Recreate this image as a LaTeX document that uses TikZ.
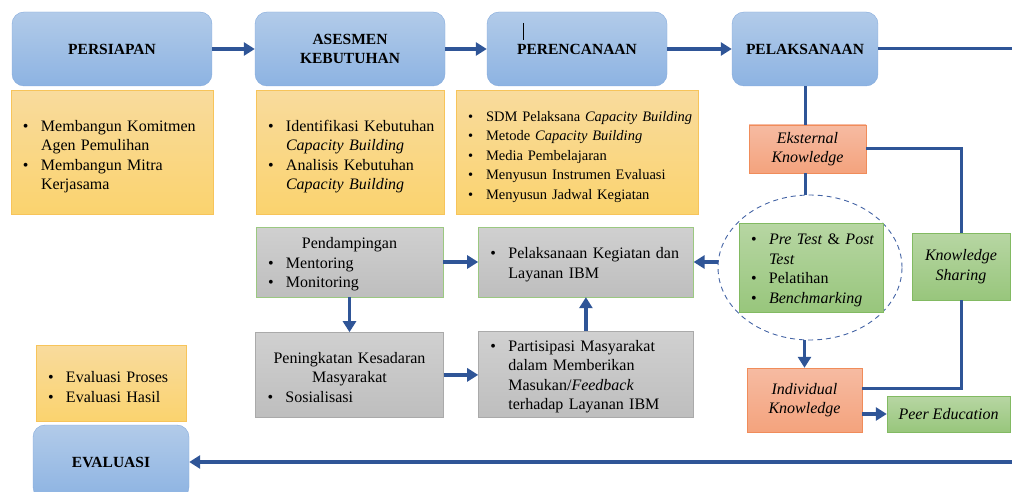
\documentclass[tikz,border=0pt]{standalone}
\usepackage{fontspec}
\setmainfont{Liberation Serif}
\usetikzlibrary{arrows.meta,positioning,shapes.geometric}
\usepackage{xcolor}

\definecolor{stagetop}{RGB}{178,203,233}
\definecolor{stagebot}{RGB}{141,179,226}
\definecolor{stageedge}{RGB}{132,170,220}
\definecolor{listtop}{RGB}{249,219,157}
\definecolor{listbot}{RGB}{250,211,110}
\definecolor{listedge}{RGB}{247,196,90}
\definecolor{graytop}{RGB}{208,208,208}
\definecolor{graybot}{RGB}{190,190,190}
\definecolor{grayedge}{RGB}{170,170,170}
\definecolor{knowtop}{RGB}{246,187,162}
\definecolor{knowbot}{RGB}{244,163,125}
\definecolor{knowedge}{RGB}{240,140,90}
\definecolor{greentop}{RGB}{183,214,163}
\definecolor{greenbot}{RGB}{152,198,124}
\definecolor{greenedge}{RGB}{130,186,98}
\definecolor{flowblue}{RGB}{47,85,151}
\definecolor{ringblue}{RGB}{68,100,165}

% bullet line and its continuation line
\newcommand{\bitem}[1]{\mbox{\makebox[18pt][l]{\textbullet}#1}}
\newcommand{\bcont}[1]{\mbox{\hspace*{18pt}#1}}
% a tall first line puts the text a little lower in its box
\newcommand{\lowtop}[1]{\rule{0pt}{#1}}

\begin{document}
\begin{tikzpicture}[x=1pt, y=-1pt, node distance=4pt,
    every node/.style={font=\fontsize{16}{19.5}\selectfont}]
\tikzset{
    stagebox/.style={rectangle, rounded corners=12pt, draw=stageedge, top color=stagetop, bottom color=stagebot, align=center, inner sep=0pt, minimum height=74pt, font=\fontsize{15.5}{18.5}\selectfont\bfseries},
    listbox/.style={rectangle, draw=listedge, top color=listtop, bottom color=listbot, align=left, inner xsep=12pt, inner ysep=0pt},
    graybox/.style={rectangle, draw=grayedge, top color=graytop, bottom color=graybot, align=left, inner xsep=12pt, inner ysep=0pt},
    knowbox/.style={rectangle, draw=knowedge, top color=knowtop, bottom color=knowbot, align=center, inner sep=0pt, font=\fontsize{16}{19.5}\selectfont\itshape},
    greenbox/.style={rectangle, draw=greenedge, top color=greentop, bottom color=greenbot, inner sep=0pt},
    myarrow/.style={-{Triangle[length=11pt,width=13pt]}, line width=3.5pt, draw=flowblue},
    myline/.style={line width=3pt, draw=flowblue}
}
\useasboundingbox (0,0) rectangle (1012,492);

% main stages
\node[stagebox, minimum width=200pt] (persiapan) at (112,49) {PERSIAPAN};
\node[stagebox, minimum width=190pt] (asesmen) at (350,49) {ASESMEN\\KEBUTUHAN};
\node[stagebox, minimum width=180pt] (perencanaan) at (577,49) {PERENCANAAN};
\node[stagebox, minimum width=146pt] (pelaksanaan) at (805,49) {PELAKSANAAN};
\node[stagebox, minimum width=156pt] (evaluasi) at (111,462) {EVALUASI};
\draw[black, line width=0.7pt] ([shift={(-54,11)}]perencanaan.north) -- ++(0,17);

\node[listbox, below=of persiapan, text width=178pt, minimum height=124pt] (persiapanlist) {\lowtop{20pt}\bitem{Membangun Komitmen}\\ \bcont{Agen Pemulihan}\\ \bitem{Membangun Mitra}\\ \bcont{Kerjasama}};
\node[listbox, below=of asesmen, text width=164pt, minimum height=124pt] (asesmenlist) {\lowtop{20pt}\bitem{Identifikasi Kebutuhan}\\ \bcont{\textit{Capacity Building}}\\ \bitem{Analisis Kebutuhan}\\ \bcont{\textit{Capacity Building}}};
\node[listbox, below=of perencanaan, text width=218pt, minimum height=124pt, font=\fontsize{14.5}{19.5}\selectfont] (perencanaanlist) {\lowtop{19pt}\bitem{SDM Pelaksana \textit{Capacity Building}}\\ \bitem{Metode \textit{Capacity Building}}\\ \bitem{Media Pembelajaran}\\ \bitem{Menyusun Instrumen Evaluasi}\\ \bitem{Menyusun Jadwal Kegiatan}};
\node[listbox, above=3pt of evaluasi, text width=126pt, minimum height=76pt] (evallist) {\lowtop{18pt}\bitem{Evaluasi Proses}\\ \bitem{Evaluasi Hasil}};

% implementation activities
\node[graybox, draw=greenedge!80, text width=163pt, minimum height=70pt] (pendamp) at (349.5,262) {\lowtop{16pt}\makebox[163pt]{Pendampingan}\\ \bitem{Mentoring}\\ \bitem{Monitoring}};
\node[graybox, draw=greenedge!80, right=35pt of pendamp, text width=191pt, minimum height=70pt] (pelkeg) {\lowtop{16pt}\bitem{Pelaksanaan Kegiatan dan}\\ \bcont{Layanan IBM}};
\node[graybox, below=35pt of pendamp, text width=164pt, minimum height=85pt] (peningkatan) {\lowtop{16pt}\makebox[164pt]{Peningkatan Kesadaran}\\ \makebox[164pt]{Masyarakat}\\ \bitem{Sosialisasi}};
\node[graybox, below=34pt of pelkeg, text width=191pt, minimum height=86pt] (partisipasi) {\lowtop{16pt}\bitem{Partisipasi Masyarakat}\\ \bcont{dalam Memberikan}\\ \bcont{Masukan/\textit{Feedback}}\\ \bcont{terhadap Layanan IBM}};

% knowledge part
\node[knowbox, minimum width=117pt, minimum height=48pt] (eksternal) at (807.5,149) {Eksternal\\Knowledge};
\node[ellipse, draw=ringblue, dashed, dash pattern=on 5pt off 4pt, line width=0.9pt, minimum width=184pt, minimum height=145pt] (ring) at (810,267.5) {};
\node[greenbox, align=left, inner xsep=12pt, text width=120pt, minimum height=89pt] (learning) at (811,267.5) {\lowtop{16pt}\bitem{\textit{Pre Test} \& \textit{Post}}\\ \bcont{\textit{Test}}\\ \bitem{Pelatihan}\\ \bitem{\textit{Benchmarking}}};
\node[knowbox, minimum width=115pt, minimum height=64pt] (individual) at (804.5,400) {Individual\\Knowledge};
\node[greenbox, align=center, font=\fontsize{16}{19.5}\selectfont\itshape, minimum width=98pt, minimum height=67pt] (sharing) at (961,266.5) {Knowledge\\Sharing};
\node[greenbox, font=\fontsize{16}{19.5}\selectfont\itshape, minimum width=123pt, minimum height=36pt] (peer) at (948.5,414) {Peer Education};

\coordinate (topend) at (1012,49);
\coordinate (botend) at (1012,462);

\draw[myarrow] (persiapan) -- (asesmen);
\draw[myarrow] (asesmen) -- (perencanaan);
\draw[myarrow] (perencanaan) -- (pelaksanaan);
\draw[myline] (pelaksanaan.east) -- (topend);
\draw[myarrow] (botend) -- (evaluasi.east);
% the flow leaves the picture on the right and comes back at the bottom

\draw[myline] (pelaksanaan.south) -- (pelaksanaan.south |- eksternal.north);
\draw[myline] (eksternal.south -| pelaksanaan.south) -- (ring.north -| pelaksanaan.south);
\draw[myarrow] (ring.south -| individual.north) -- (individual.north);
\draw[myarrow] (ring.west |- pelkeg.east) -- (pelkeg.east);
\draw[myline] (eksternal.east) -| (sharing.north);
\draw[myline] (sharing.south) |- ([yshift=12pt]individual.east);
\draw[myarrow] (individual.east |- peer.west) -- (peer.west);

\draw[myarrow] (pendamp) -- (pelkeg);
\draw[myarrow] (pendamp.south) -- (pendamp.south |- peningkatan.north);
\draw[myarrow] (peningkatan.east) -- (peningkatan.east -| partisipasi.west);
\draw[myarrow] (partisipasi) -- (pelkeg);

\end{tikzpicture}
\end{document}
